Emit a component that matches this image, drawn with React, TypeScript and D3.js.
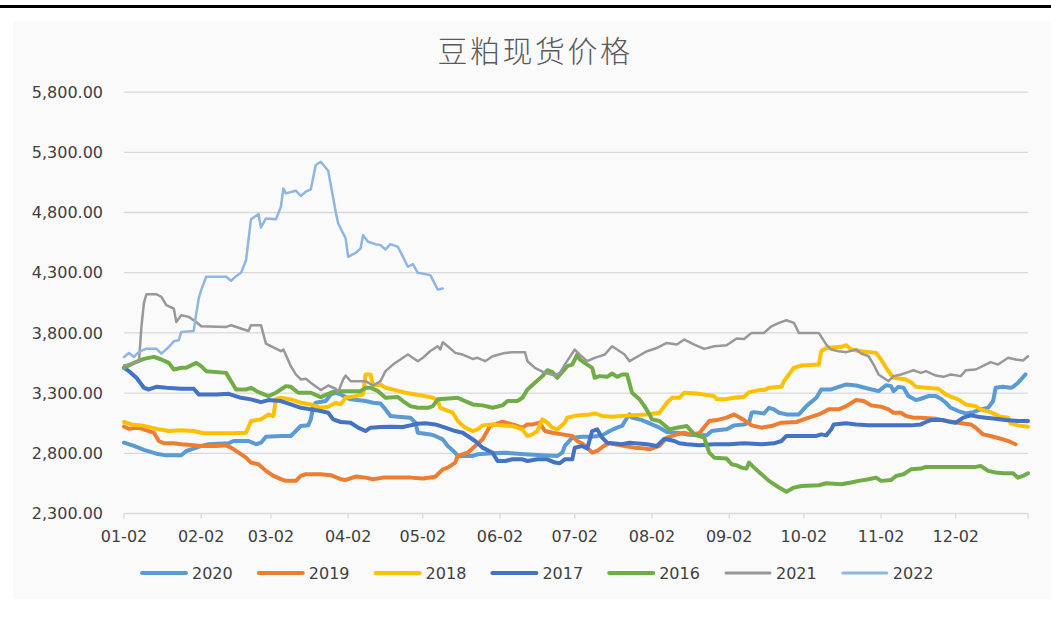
import React from 'react';
import * as d3 from 'd3';

// day-of-year (Jan 1 = 1) and spot price
type Pt = [number, number];

const series2020: Pt[] = [[2,2888],[6,2861],[10,2828],[15,2797],[19,2783],[25,2783],[27,2819],[30,2839],[33,2861],[36,2875],[44,2883],[46,2902],[52,2902],[55,2875],[57,2888],[59,2938],[65,2944],[69,2944],[71,2985],[73,3027],[76,3032],[77,3082],[78,3192],[79,3220],[83,3234],[85,3289],[87,3303],[89,3289],[93,3248],[99,3234],[102,3220],[105,3214],[107,3165],[109,3110],[112,3104],[117,3096],[119,3054],[120,2971],[125,2957],[127,2944],[130,2916],[132,2861],[135,2805],[136,2778],[142,2778],[144,2792],[150,2800],[155,2805],[163,2792],[170,2783],[176,2778],[178,2805],[179,2861],[182,2930],[186,2938],[190,2938],[194,2949],[197,2985],[200,3013],[202,3027],[204,3096],[205,3123],[206,3096],[210,3076],[214,3040],[217,3013],[220,2977],[224,2971],[228,2957],[232,2949],[236,2949],[238,2985],[241,2993],[244,2999],[247,3032],[251,3040],[253,3054],[254,3137],[255,3142],[259,3131],[261,3178],[263,3165],[265,3137],[268,3123],[273,3123],[276,3192],[280,3261],[282,3330],[286,3330],[289,3352],[292,3372],[296,3363],[301,3336],[305,3316],[308,3365],[310,3358],[311,3316],[313,3352],[315,3344],[317,3275],[320,3242],[322,3253],[325,3275],[328,3275],[330,3253],[332,3220],[334,3178],[337,3151],[340,3131],[343,3142],[346,3165],[349,3178],[351,3234],[352,3344],[355,3352],[358,3344],[359,3352],[361,3386],[364,3455]];

const series2019: Pt[] = [[2,3021],[4,3004],[8,3013],[11,2991],[14,2971],[16,2902],[18,2883],[22,2883],[25,2875],[30,2866],[33,2861],[39,2861],[43,2866],[45,2847],[48,2805],[51,2764],[53,2723],[56,2709],[59,2654],[62,2612],[65,2585],[67,2571],[71,2571],[73,2612],[75,2626],[81,2626],[85,2618],[89,2585],[91,2579],[95,2607],[99,2598],[102,2585],[106,2598],[112,2598],[117,2598],[122,2590],[127,2605],[130,2667],[132,2681],[135,2723],[136,2778],[140,2805],[143,2861],[146,2916],[149,3026],[151,3040],[154,3062],[158,3040],[162,3013],[164,3040],[166,3040],[169,3054],[171,2985],[174,2971],[178,2957],[182,2944],[184,2902],[186,2880],[188,2847],[190,2805],[192,2819],[195,2866],[197,2883],[203,2861],[207,2847],[211,2839],[213,2833],[217,2861],[220,2930],[224,2957],[227,2971],[229,2957],[233,2966],[237,3068],[240,3076],[244,3096],[247,3123],[251,3076],[254,3032],[258,3013],[262,3026],[266,3054],[272,3060],[277,3096],[281,3123],[285,3165],[289,3165],[292,3192],[296,3242],[299,3234],[302,3198],[306,3187],[309,3165],[311,3137],[314,3137],[316,3110],[319,3096],[322,3096],[328,3087],[332,3068],[337,3054],[342,3040],[344,3013],[347,2957],[350,2944],[355,2916],[358,2894],[360,2875]];

const series2018: Pt[] = [[2,3060],[5,3040],[9,3032],[13,3013],[16,2999],[20,2985],[25,2991],[30,2985],[34,2966],[45,2966],[51,2971],[53,3068],[57,3082],[60,3123],[62,3110],[63,3250],[65,3261],[69,3248],[73,3220],[77,3206],[81,3178],[84,3187],[87,3220],[89,3206],[91,3261],[95,3275],[98,3289],[99,3455],[101,3455],[102,3363],[105,3372],[107,3344],[111,3325],[115,3303],[119,3289],[123,3275],[126,3261],[128,3239],[129,3178],[134,3137],[136,3068],[139,3013],[142,2985],[144,2999],[146,3032],[150,3040],[154,3032],[158,3026],[162,2999],[164,2944],[166,2957],[168,2985],[170,3082],[172,3054],[174,3013],[176,2999],[179,3054],[180,3096],[184,3115],[189,3123],[191,3131],[194,3110],[198,3104],[205,3115],[212,3123],[217,3137],[220,3220],[222,3261],[225,3261],[227,3303],[232,3297],[239,3275],[240,3248],[243,3248],[247,3261],[251,3270],[253,3308],[257,3325],[259,3325],[261,3344],[266,3352],[267,3399],[269,3455],[271,3510],[274,3529],[281,3537],[282,3648],[284,3675],[290,3684],[292,3698],[294,3662],[298,3648],[304,3634],[306,3579],[308,3510],[309,3482],[311,3427],[316,3413],[318,3391],[320,3352],[324,3344],[329,3336],[332,3289],[334,3270],[337,3248],[340,3206],[344,3192],[346,3165],[350,3142],[354,3104],[357,3096],[358,3049],[361,3032],[365,3021]];

const series2017: Pt[] = [[2,3510],[4,3482],[7,3427],[10,3344],[12,3330],[15,3352],[19,3344],[25,3336],[30,3336],[32,3289],[39,3289],[44,3294],[49,3261],[53,3248],[57,3225],[60,3242],[65,3234],[69,3206],[73,3178],[77,3165],[81,3151],[84,3137],[86,3082],[89,3060],[93,3054],[96,3013],[99,2985],[101,3013],[105,3018],[109,3021],[114,3018],[117,3032],[120,3046],[123,3049],[127,3040],[131,3013],[135,2985],[138,2971],[140,2944],[143,2902],[146,2847],[150,2805],[152,2736],[155,2736],[158,2750],[162,2750],[164,2736],[168,2750],[172,2750],[175,2723],[177,2717],[179,2750],[182,2750],[183,2847],[186,2861],[188,2839],[190,2985],[192,2999],[194,2930],[196,2888],[202,2875],[205,2888],[212,2875],[216,2861],[219,2921],[223,2902],[225,2883],[228,2875],[233,2866],[239,2875],[245,2875],[251,2883],[258,2875],[263,2883],[266,2902],[268,2944],[274,2944],[280,2944],[282,2957],[284,2949],[286,2999],[287,3040],[292,3049],[296,3040],[301,3032],[308,3032],[314,3032],[318,3032],[322,3040],[324,3060],[326,3076],[331,3076],[334,3060],[336,3054],[339,3096],[342,3115],[345,3104],[348,3096],[352,3087],[356,3076],[361,3068],[365,3068]];

const series2016: Pt[] = [[2,3510],[6,3551],[10,3584],[14,3601],[17,3579],[20,3551],[22,3496],[25,3510],[27,3510],[31,3551],[33,3524],[35,3482],[43,3468],[45,3399],[47,3330],[51,3330],[53,3344],[56,3308],[60,3275],[63,3303],[67,3358],[69,3352],[72,3303],[77,3303],[81,3267],[85,3303],[87,3316],[97,3316],[99,3344],[101,3344],[104,3316],[107,3261],[112,3267],[114,3234],[117,3192],[120,3178],[124,3178],[126,3192],[128,3248],[131,3253],[136,3261],[139,3234],[142,3206],[146,3198],[150,3178],[154,3198],[156,3234],[160,3234],[162,3261],[164,3330],[167,3386],[170,3441],[172,3490],[174,3474],[176,3427],[180,3524],[182,3537],[184,3620],[185,3580],[188,3537],[190,3510],[191,3427],[193,3441],[196,3435],[198,3463],[200,3435],[202,3455],[204,3455],[206,3303],[209,3248],[211,3192],[213,3123],[214,3082],[217,3068],[221,2999],[224,3013],[228,3026],[231,2957],[235,2930],[237,2805],[239,2764],[244,2756],[246,2709],[248,2700],[250,2681],[252,2673],[253,2723],[255,2681],[258,2626],[261,2571],[264,2529],[268,2480],[271,2515],[274,2529],[281,2535],[284,2551],[290,2543],[294,2557],[297,2571],[301,2585],[304,2598],[306,2571],[310,2578],[312,2612],[315,2626],[318,2667],[322,2673],[324,2687],[331,2687],[340,2687],[344,2687],[346,2695],[349,2654],[352,2640],[355,2634],[359,2634],[361,2598],[363,2612],[365,2634]];

const series2021: Pt[] = [[2,3530],[5,3545],[8,3560],[9,3850],[10,4050],[11,4121],[15,4121],[17,4100],[19,4030],[22,4002],[23,3891],[25,3947],[28,3933],[31,3891],[33,3855],[43,3850],[45,3864],[52,3816],[53,3864],[57,3864],[59,3711],[62,3680],[65,3648],[66,3662],[69,3524],[71,3455],[73,3413],[75,3419],[77,3386],[81,3325],[84,3363],[87,3336],[88,3308],[90,3413],[91,3446],[93,3399],[99,3399],[102,3363],[105,3399],[107,3482],[110,3537],[114,3593],[116,3620],[120,3565],[122,3593],[125,3650],[128,3689],[129,3662],[130,3722],[132,3689],[135,3634],[138,3620],[142,3584],[144,3593],[147,3565],[150,3606],[155,3634],[158,3640],[163,3640],[164,3565],[167,3510],[171,3468],[175,3446],[177,3468],[179,3537],[183,3662],[185,3620],[188,3565],[191,3593],[195,3620],[198,3689],[200,3662],[203,3620],[205,3565],[209,3612],[212,3648],[216,3675],[220,3717],[224,3703],[227,3745],[231,3703],[235,3667],[239,3689],[244,3698],[248,3753],[251,3750],[254,3800],[259,3800],[262,3855],[265,3883],[268,3905],[271,3883],[273,3800],[281,3800],[284,3703],[286,3662],[289,3648],[292,3640],[296,3662],[298,3629],[301,3606],[303,3537],[305,3455],[309,3399],[311,3441],[314,3455],[316,3468],[319,3490],[322,3468],[324,3482],[328,3446],[331,3435],[334,3455],[338,3441],[340,3490],[344,3496],[348,3537],[350,3557],[353,3537],[357,3593],[360,3579],[363,3571],[365,3606]];

const series2022: Pt[] = [[2,3600],[4,3633],[6,3600],[8,3642],[11,3669],[15,3669],[17,3628],[20,3683],[22,3730],[24,3739],[25,3808],[30,3816],[31,3961],[32,4085],[33,4155],[35,4266],[43,4266],[45,4233],[47,4271],[49,4299],[51,4404],[53,4743],[56,4787],[57,4676],[59,4751],[63,4743],[65,4848],[66,5000],[67,4959],[71,4981],[73,4937],[75,4973],[77,4992],[79,5195],[81,5222],[84,5147],[87,4806],[88,4709],[91,4585],[92,4432],[95,4465],[97,4501],[98,4612],[100,4557],[103,4537],[105,4529],[107,4493],[109,4537],[112,4515],[116,4349],[118,4371],[120,4299],[125,4280],[128,4160],[130,4169]];

const seriesNames = ['2020', '2019', '2018', '2017', '2016', '2021', '2022'];
const seriesColors = ['#5B9BD5', '#ED7D31', '#FFC000', '#4472C4', '#70AD47', '#989898', '#8FB5E2'];
const seriesWidths = [4, 4, 4, 4, 4, 2.5, 2.5];
const seriesData = [series2020, series2019, series2018, series2017, series2016, series2021, series2022];

const yTicks = [2300, 2800, 3300, 3800, 4300, 4800, 5300, 5800];
const xTickLabels = ['01-02', '02-02', '03-02', '04-02', '05-02', '06-02', '07-02', '08-02', '09-02', '10-02', '11-02', '12-02'];

const W = 1051;
const H = 637;
const toDate = (doy: number) => new Date(2021, 0, doy);
const labelDate = (s: string) => new Date(2021, +s.slice(0, 2) - 1, +s.slice(3));

export default function App() {
  const x = d3.scaleTime().domain([toDate(2), toDate(365)]).range([124, 1028]);
  const y = d3.scaleLinear().domain([2300, 5800]).range([513.5, 92.1]);
  const line = d3.line<Pt>().x(d => x(toDate(d[0]))).y(d => y(d[1]));
  const fmt = d3.format(',.2f');
  const [x0, x1] = x.range();
  const textColor = '#404040';

  return (
    <svg width={W} height={H} style={{ position: 'absolute', left: 0, top: 0, background: '#fff' }}
      fontFamily="'DejaVu Sans', sans-serif">
      <rect x={13} y={21} width={W - 13} height={578} fill="#fafafa" />
      <rect x={0} y={5} width={W} height={3} fill="#000" />

      <text x={535} y={62} textAnchor="middle" fontSize={30} letterSpacing={2.5} fontWeight={300}
        fontFamily="'Noto Sans CJK SC', sans-serif" fill="#595959">豆粕现货价格</text>

      {/* gridlines + y labels */}
      {yTicks.map(t => (
        <g key={t}>
          <line x1={x0} x2={x1} y1={y(t)} y2={y(t)} stroke="#d9d9d9" strokeWidth={1.3} />
          <text x={103} y={y(t)} dy="0.36em" textAnchor="end" fontSize={16} fill={textColor}>{fmt(t)}</text>
        </g>
      ))}

      {/* x ticks + labels */}
      {xTickLabels.map(s => {
        const tx = x(labelDate(s));
        return (
          <g key={s}>
            <line x1={tx} x2={tx} y1={y(2300)} y2={y(2300) + 5} stroke="#d9d9d9" strokeWidth={1.3} />
            <text x={tx} y={541.5} textAnchor="middle" fontSize={16} fill={textColor}>{s}</text>
          </g>
        );
      })}
      <line x1={x1} x2={x1} y1={y(2300)} y2={y(2300) + 5} stroke="#d9d9d9" strokeWidth={1.3} />

      {/* series */}
      {seriesData.map((data, i) => (
        <path key={seriesNames[i]} d={line(data) || ''} fill="none" stroke={seriesColors[i]}
          strokeWidth={seriesWidths[i]} strokeLinejoin="round" strokeLinecap="round" />
      ))}

      {/* legend */}
      {seriesNames.map((name, i) => {
        const lx = 140 + i * 116.8;
        return (
          <g key={name}>
            <line x1={lx + 2} x2={lx + 46} y1={573} y2={573} stroke={seriesColors[i]}
              strokeWidth={i < 5 ? 4 : 3} strokeLinecap="round" />
            <text x={lx + 52} y={579} fontSize={16} fill={textColor}>{name}</text>
          </g>
        );
      })}
    </svg>
  );
}
